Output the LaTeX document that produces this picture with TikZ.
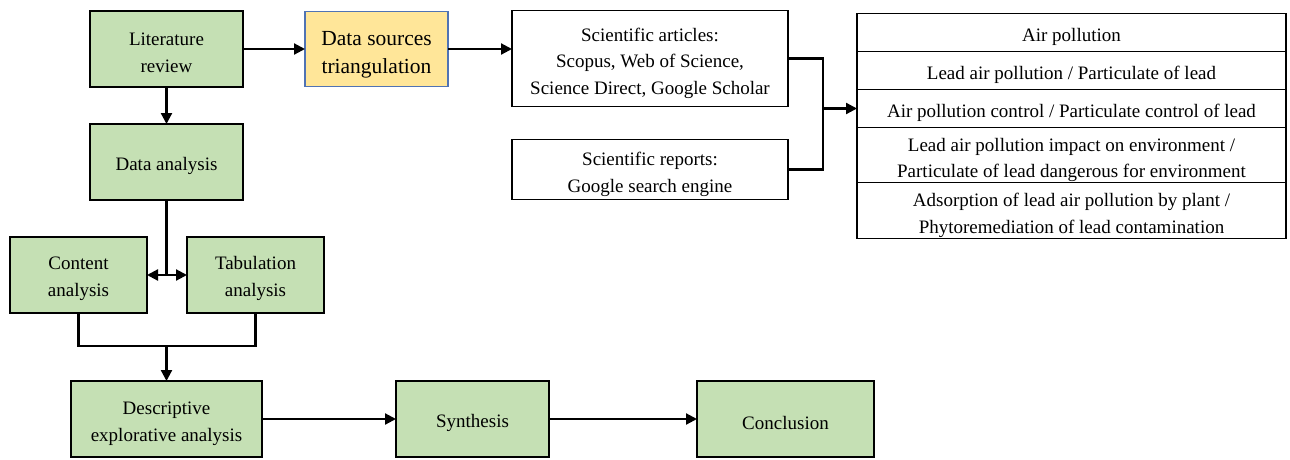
\documentclass[tikz,border=0pt]{standalone}
\usepackage{fontspec}
\setmainfont{Liberation Serif}
\usepackage{tikz}
\usetikzlibrary{arrows.meta, positioning, calc}
\usepackage{xcolor}
\definecolor{stepgreen}{RGB}{197,224,180}
\definecolor{srcyellow}{RGB}{255,230,153}
\definecolor{srcblue}{RGB}{80,115,180}

\begin{document}
\begin{tikzpicture}[
  x=1pt, y=1pt,
  stage/.style={draw, line width=1.6pt, fill=stepgreen, minimum width=153pt,
                minimum height=76pt, align=center, inner sep=2pt, outer sep=0pt,
                font=\fontsize{19}{27}\selectfont, text height=22pt},
  src/.style={draw=srcblue, line width=1.3pt, fill=srcyellow, minimum width=143pt,
              minimum height=75pt, align=center, inner sep=2pt, outer sep=0pt,
              font=\fontsize{21.5}{28}\selectfont, text height=53pt},
  base/.style={draw, line width=1.4pt, minimum width=276pt, align=center,
               inner sep=2pt, outer sep=0pt, font=\fontsize{19}{26.5}\selectfont,
               text height=50pt},
  topic/.style={draw, line width=1.4pt, minimum width=429pt, align=center,
                inner sep=1pt, outer sep=0pt, font=\fontsize{19}{26.5}\selectfont,
                text height=22pt},
  twoline/.style={text height=48pt},
  link/.style={line width=2.2pt},
  arrow/.style={-{Triangle[length=11pt,width=11pt]}, line width=2.2pt}
]
\useasboundingbox (0,0) rectangle (1290,-459);

% left column
\node[stage, twoline] (lit) at (166.5,-49) {Literature\\review};
\node[stage, below=37pt of lit] (data) {Data analysis};
\node[stage, twoline, minimum width=137pt, below=37pt of data, xshift=-88pt] (cont) {Content\\analysis};
\node[stage, twoline, minimum width=137pt, right=40pt of cont] (tab) {Tabulation\\analysis};
\node[stage, twoline, text height=50pt, minimum width=191pt, below=181pt of data] (desc) {Descriptive\\explorative analysis};
\node[stage, right=134pt of desc] (syn) {Synthesis};
\node[stage, minimum width=177pt, right=148pt of syn] (concl) {Conclusion};

% sources
\node[src, right=62pt of lit] (dst) {Data sources\\triangulation};
\node[base, text height=76pt, minimum height=96pt, right=64pt of dst, yshift=-9.5pt] (art)
  {Scientific articles:\\Scopus, Web of Science,\\Science Direct, Google Scholar};
\node[base, minimum height=60pt, below=33pt of art] (rep)
  {Scientific reports:\\Google search engine};

% topics
\node[topic, minimum height=38pt, anchor=north west] (t1)
  at ($(art.north east)+(69pt,-3pt)$) {Air pollution};
\node[topic, minimum height=38pt, below=0pt of t1] (t2) {Lead air pollution / Particulate of lead};
\node[topic, minimum height=38pt, below=0pt of t2] (t3) {Air pollution control / Particulate control of lead};
\node[topic, twoline, text height=49pt, minimum height=54pt, below=0pt of t3] (t4)
  {Lead air pollution impact on environment /\\Particulate of lead dangerous for environment};
\node[topic, twoline, text height=49pt, minimum height=56pt, below=0pt of t4] (t5)
  {Adsorption of lead air pollution by plant /\\Phytoremediation of lead contamination};

% connectors
\coordinate (split) at (data.south |- cont.east);
\coordinate (mrg) at ($(desc.north)+(0,35)$);
\coordinate (jn) at ($(art.east)+(35,0)$);

\draw[arrow] (lit) -- (dst);
\draw[arrow] (dst.east) -- (dst.east -| art.west);
\draw[arrow] (lit) -- (data);
\draw[link] (data.south) -- (split);
\draw[{Triangle[length=11pt,width=11pt]}-{Triangle[length=11pt,width=11pt]}, line width=2.2pt] (cont) -- (tab);
\draw[link] (cont.south) |- (mrg) -| (tab.south);
\draw[arrow] (mrg) -- (desc.north);
\draw[arrow] (desc) -- (syn);
\draw[arrow] (syn) -- (concl);
\draw[link] (art.east) -- (jn) |- (rep.east);
\draw[arrow] (jn |- t3.west) -- (t3.west);
\end{tikzpicture}
\end{document}
